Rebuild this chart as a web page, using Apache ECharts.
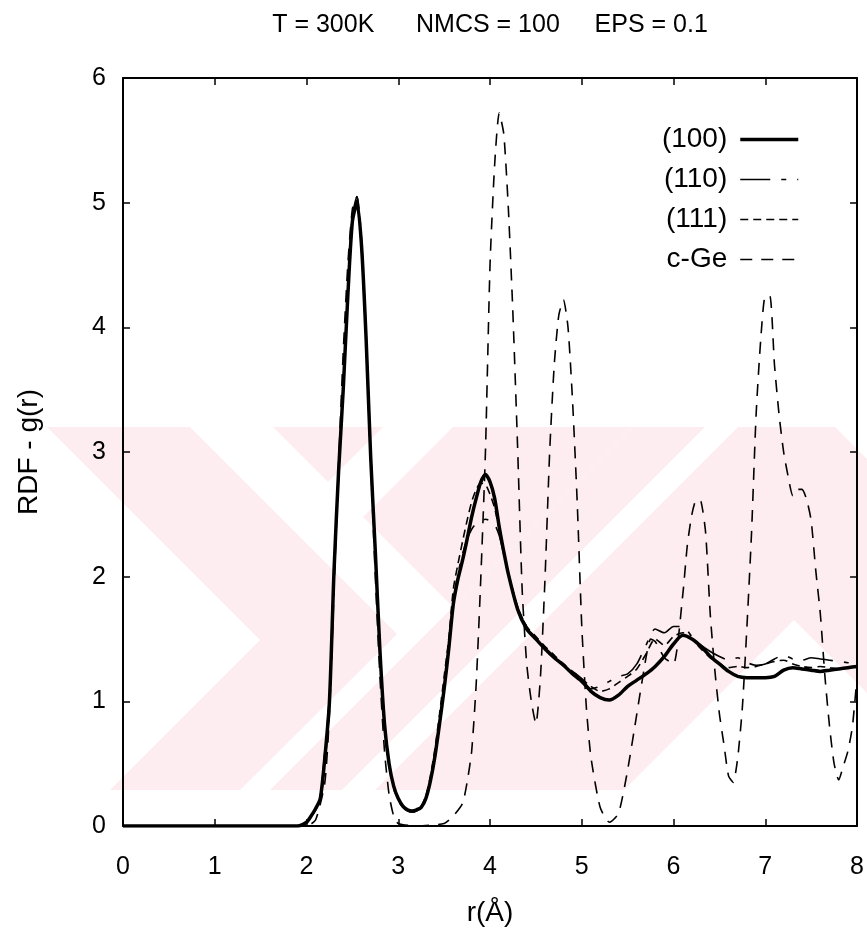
<!DOCTYPE html>
<html>
<head>
<meta charset="utf-8">
<title>RDF g(r)</title>
<script src="https://cdn.jsdelivr.net/npm/echarts@6/dist/echarts.min.js"></script>
<style>
  html, body { margin: 0; padding: 0; background: #fff; }
  #chart { width: 867px; height: 952px; }
</style>
</head>
<body>
<div id="chart"></div>
<script>
// Radial distance grid shared by the three surface runs (Å)
var rSurf = [0, 0.5, 1, 1.5, 1.9,
  2.0, 2.05, 2.1, 2.15, 2.2, 2.25, 2.3, 2.35, 2.4, 2.45,
  2.5, 2.55, 2.6, 2.65, 2.7, 2.75, 2.8, 2.85, 2.9, 2.95,
  3.0, 3.05, 3.1, 3.15, 3.2, 3.25, 3.3, 3.35, 3.4, 3.45,
  3.5, 3.55, 3.6, 3.65, 3.7, 3.75, 3.8, 3.85, 3.9, 3.95,
  4.0, 4.05, 4.1, 4.15, 4.2,
  4.3, 4.4, 4.5, 4.6, 4.7, 4.8, 4.9, 5.0, 5.1, 5.2, 5.3, 5.4, 5.5, 5.6, 5.7, 5.8, 5.9,
  6.0, 6.1, 6.2, 6.3, 6.4, 6.5, 6.6, 6.7, 6.8, 6.9, 7.0, 7.1, 7.2, 7.3, 7.4, 7.5, 7.6, 7.7, 7.8, 7.9, 8.0];

// g(r) of the (100) surface
var g100 = [0, 0, 0, 0, 0,
  0.03, 0.08, 0.14, 0.22, 0.55, 1.0, 2.05, 2.85, 3.5, 4.25,
  4.85, 5.0, 4.65, 3.9, 2.95, 2.2, 1.41, 0.82, 0.5, 0.32,
  0.22, 0.16, 0.13, 0.12, 0.13, 0.15, 0.22, 0.36, 0.56, 0.82,
  1.1, 1.42, 1.78, 1.98, 2.13, 2.3, 2.48, 2.63, 2.76, 2.82,
  2.76, 2.63, 2.4, 2.2, 2.02,
  1.74, 1.58, 1.5, 1.42, 1.35, 1.29, 1.22, 1.16, 1.08, 1.03, 1.01, 1.05, 1.12, 1.17, 1.22, 1.28, 1.36,
  1.46, 1.53, 1.5, 1.44, 1.36, 1.3, 1.24, 1.2, 1.19, 1.19, 1.19, 1.2, 1.25, 1.27, 1.26, 1.25, 1.24, 1.25, 1.26, 1.27, 1.28];

// g(r) of the (110) surface
var g110 = [0, 0, 0, 0, 0,
  0.03, 0.08, 0.14, 0.24, 0.6, 1.05, 2.0, 2.8, 3.5, 4.3,
  4.9, 5.05, 4.7, 3.95, 3.0, 2.2, 1.4, 0.8, 0.48, 0.3,
  0.2, 0.15, 0.12, 0.11, 0.12, 0.15, 0.23, 0.38, 0.58, 0.85,
  1.12, 1.45, 1.8, 2.02, 2.18, 2.3, 2.38, 2.43, 2.45, 2.46,
  2.45, 2.42, 2.33, 2.18, 2.02,
  1.75, 1.6, 1.5, 1.43, 1.36, 1.3, 1.24, 1.18, 1.1, 1.12, 1.16, 1.2, 1.22, 1.3, 1.45, 1.58, 1.55,
  1.6, 1.6, 1.52, 1.45, 1.4, 1.36, 1.33, 1.35, 1.31, 1.29, 1.3, 1.34, 1.37, 1.34, 1.33, 1.35, 1.34, 1.33, 1.32, 1.31, 1.3];

// g(r) of the (111) surface
var g111 = [0, 0, 0, 0, 0,
  0.03, 0.07, 0.13, 0.2, 0.5, 0.95, 2.0, 2.9, 3.55, 4.3,
  4.88, 5.02, 4.62, 3.85, 2.9, 2.15, 1.38, 0.8, 0.5, 0.32,
  0.22, 0.16, 0.13, 0.12, 0.13, 0.16, 0.24, 0.4, 0.62, 0.9,
  1.2, 1.5, 1.9, 2.1, 2.28, 2.45, 2.6, 2.7, 2.75, 2.74,
  2.66, 2.55, 2.38, 2.2, 2.03,
  1.76, 1.6, 1.52, 1.44, 1.37, 1.3, 1.24, 1.18, 1.12, 1.08, 1.1, 1.15, 1.2, 1.26, 1.38, 1.5, 1.45,
  1.52, 1.55, 1.5, 1.42, 1.35, 1.3, 1.27, 1.28, 1.27, 1.28, 1.3, 1.32, 1.33, 1.3, 1.28, 1.27, 1.28, 1.27, 1.26, 1.27, 1.27];

// Crystalline germanium reference
var rCryst = [0, 1, 2, 2.1, 2.2, 2.25, 2.3, 2.35, 2.4, 2.45,
  2.5, 2.55, 2.6, 2.65, 2.7, 2.75, 2.8, 2.85, 2.9, 2.95,
  3.0, 3.2, 3.5, 3.6, 3.7, 3.75, 3.8, 3.85, 3.9, 3.95,
  4.0, 4.05, 4.1, 4.15, 4.2, 4.25, 4.3, 4.35, 4.4, 4.45,
  4.5, 4.55, 4.6, 4.65, 4.7, 4.75, 4.8, 4.85, 4.9, 4.95,
  5.0, 5.05, 5.1, 5.2, 5.3, 5.4, 5.5, 5.6, 5.7, 5.75,
  5.8, 5.9, 6.0, 6.1, 6.15, 6.2, 6.25, 6.3, 6.35, 6.4,
  6.45, 6.5, 6.55, 6.6, 6.65, 6.7, 6.75, 6.8, 6.85, 6.9,
  6.95, 7.0, 7.05, 7.1, 7.15, 7.2, 7.25, 7.3, 7.35, 7.4,
  7.45, 7.5, 7.55, 7.6, 7.65, 7.7, 7.75, 7.8, 7.85, 7.9,
  7.95, 8.0];
var gCryst = [0, 0, 0, 0.05, 0.35, 0.9, 1.9, 2.9, 3.8, 4.5,
  4.95, 5.05, 4.6, 3.85, 2.9, 2.0, 1.2, 0.6, 0.25, 0.08,
  0.02, 0, 0.02, 0.08, 0.18, 0.35, 0.6, 1.15, 2.0, 3.0,
  4.5, 5.3, 5.72, 5.55, 4.95, 4.1, 3.05, 1.9, 1.3, 1.0,
  0.82, 1.2, 2.0, 3.0, 3.7, 4.1, 4.22, 4.0, 3.4, 2.6,
  1.6, 0.95, 0.55, 0.15, 0.03, 0.1, 0.45, 0.9, 1.35, 1.5,
  1.48, 1.35, 1.3, 1.85, 2.25, 2.5, 2.62, 2.6, 2.35, 1.7,
  1.25, 0.9, 0.65, 0.4, 0.35, 0.55, 0.95, 1.6, 2.35, 3.3,
  3.9, 4.25, 4.25, 3.7, 3.3, 3.0, 2.8, 2.65, 2.7, 2.7,
  2.62, 2.45, 2.05, 1.7, 1.2, 0.8, 0.5, 0.37, 0.48, 0.6,
  0.8, 1.2];

var seriesNames = ['(100)', '(110)', '(111)', 'c-Ge'];
var xTicks = { min: 0, max: 8, step: 1 };
var yTicks = { min: 0, max: 6, step: 1 };

function pairs(xs, ys) {
  return xs.map(function (x, i) { return [x, ys[i]]; });
}

var FONT = '"Liberation Sans", Arial, Helvetica, sans-serif';
var INK = '#000';
var WASH = '#fdedf0';

var chart = echarts.init(document.getElementById('chart'), null, { renderer: 'canvas' });

// pale background emblem behind the plot
function washShape(points) {
  return { type: 'polygon', z: -100, silent: true, shape: { points: points }, style: { fill: WASH } };
}

function valueAxis(pos, range, showLabels, extra) {
  var ax = {
    type: 'value',
    position: pos,
    min: range.min,
    max: range.max,
    interval: range.step,
    axisLine: { show: true, onZero: false, lineStyle: { color: INK, width: 2 } },
    axisTick: { show: true, inside: true, length: 7, lineStyle: { color: INK, width: 1.5 } },
    axisLabel: { show: showLabels, color: INK, fontSize: 25, fontFamily: FONT },
    splitLine: { show: false }
  };
  for (var k in extra) ax[k] = extra[k];
  return ax;
}

var option = {
  backgroundColor: '#fff',
  animation: false,
  title: {
    text: 'T = 300K      NMCS = 100     EPS = 0.1',
    left: 485,
    top: 8,
    textAlign: 'center',
    textStyle: { color: INK, fontSize: 25, fontWeight: 'normal', fontFamily: FONT }
  },
  graphic: [
    washShape([[47, 427], [190, 427], [397, 634], [240, 790], [110, 790], [260, 640]]),
    washShape([[273, 427], [383, 427], [328, 482]]),
    washShape([[453, 427], [633, 427], [453, 607], [363, 517]]),
    washShape([[633, 427], [705, 427], [342, 790], [270, 790]]),
    washShape([[738, 427], [835, 427], [867, 459], [867, 693], [794, 620], [624, 790], [375, 790]])
  ],
  grid: { left: 123, right: 6, top: 78, bottom: 126, containLabel: false },
  legend: {
    orient: 'vertical',
    right: 67,
    top: 124,
    padding: 0,
    align: 'right',
    itemWidth: 58,
    itemHeight: 14,
    itemGap: 9,
    itemStyle: { opacity: 0 },
    lineStyle: { width: 'inherit' },
    data: seriesNames,
    textStyle: {
      color: INK, fontSize: 28, fontFamily: FONT, lineHeight: 31,
      width: 84, align: 'right', padding: [0, 8, 0, 0]
    }
  },
  xAxis: [
    valueAxis('bottom', xTicks, true, {
      name: 'r(Å)', nameLocation: 'middle', nameGap: 73,
      nameTextStyle: { color: INK, fontSize: 28, fontFamily: FONT },
      axisLabel: { show: true, color: INK, fontSize: 25, fontFamily: FONT, margin: 29 }
    }),
    valueAxis('top', xTicks, false, {})
  ],
  yAxis: [
    valueAxis('left', yTicks, true, {
      name: 'RDF - g(r)', nameLocation: 'middle', nameGap: 80, nameRotate: 90,
      nameTextStyle: { color: INK, fontSize: 28, fontFamily: FONT },
      axisLabel: { show: true, color: INK, fontSize: 25, fontFamily: FONT, margin: 17 }
    }),
    valueAxis('right', yTicks, false, {})
  ],
  series: [
    {
      name: seriesNames[0], type: 'line', showSymbol: false, symbol: 'none',
      smooth: 0.25, data: pairs(rSurf, g100), z: 5,
      lineStyle: { color: INK, width: 3.5, type: 'solid' }, itemStyle: { color: INK }
    },
    {
      name: seriesNames[1], type: 'line', showSymbol: false, symbol: 'none',
      smooth: 0.25, data: pairs(rSurf, g110), z: 4,
      lineStyle: { color: INK, width: 1.6, type: [30, 11, 5, 11] }, itemStyle: { color: INK }
    },
    {
      name: seriesNames[2], type: 'line', showSymbol: false, symbol: 'none',
      smooth: 0.25, data: pairs(rSurf, g111), z: 4,
      lineStyle: { color: INK, width: 1.6, type: [8, 5] }, itemStyle: { color: INK }
    },
    {
      name: seriesNames[3], type: 'line', showSymbol: false, symbol: 'none',
      smooth: 0.2, data: pairs(rCryst, gCryst), z: 3,
      lineStyle: { color: INK, width: 1.6, type: [12, 9] }, itemStyle: { color: INK }
    }
  ]
};

chart.setOption(option);
</script>
</body>
</html>
